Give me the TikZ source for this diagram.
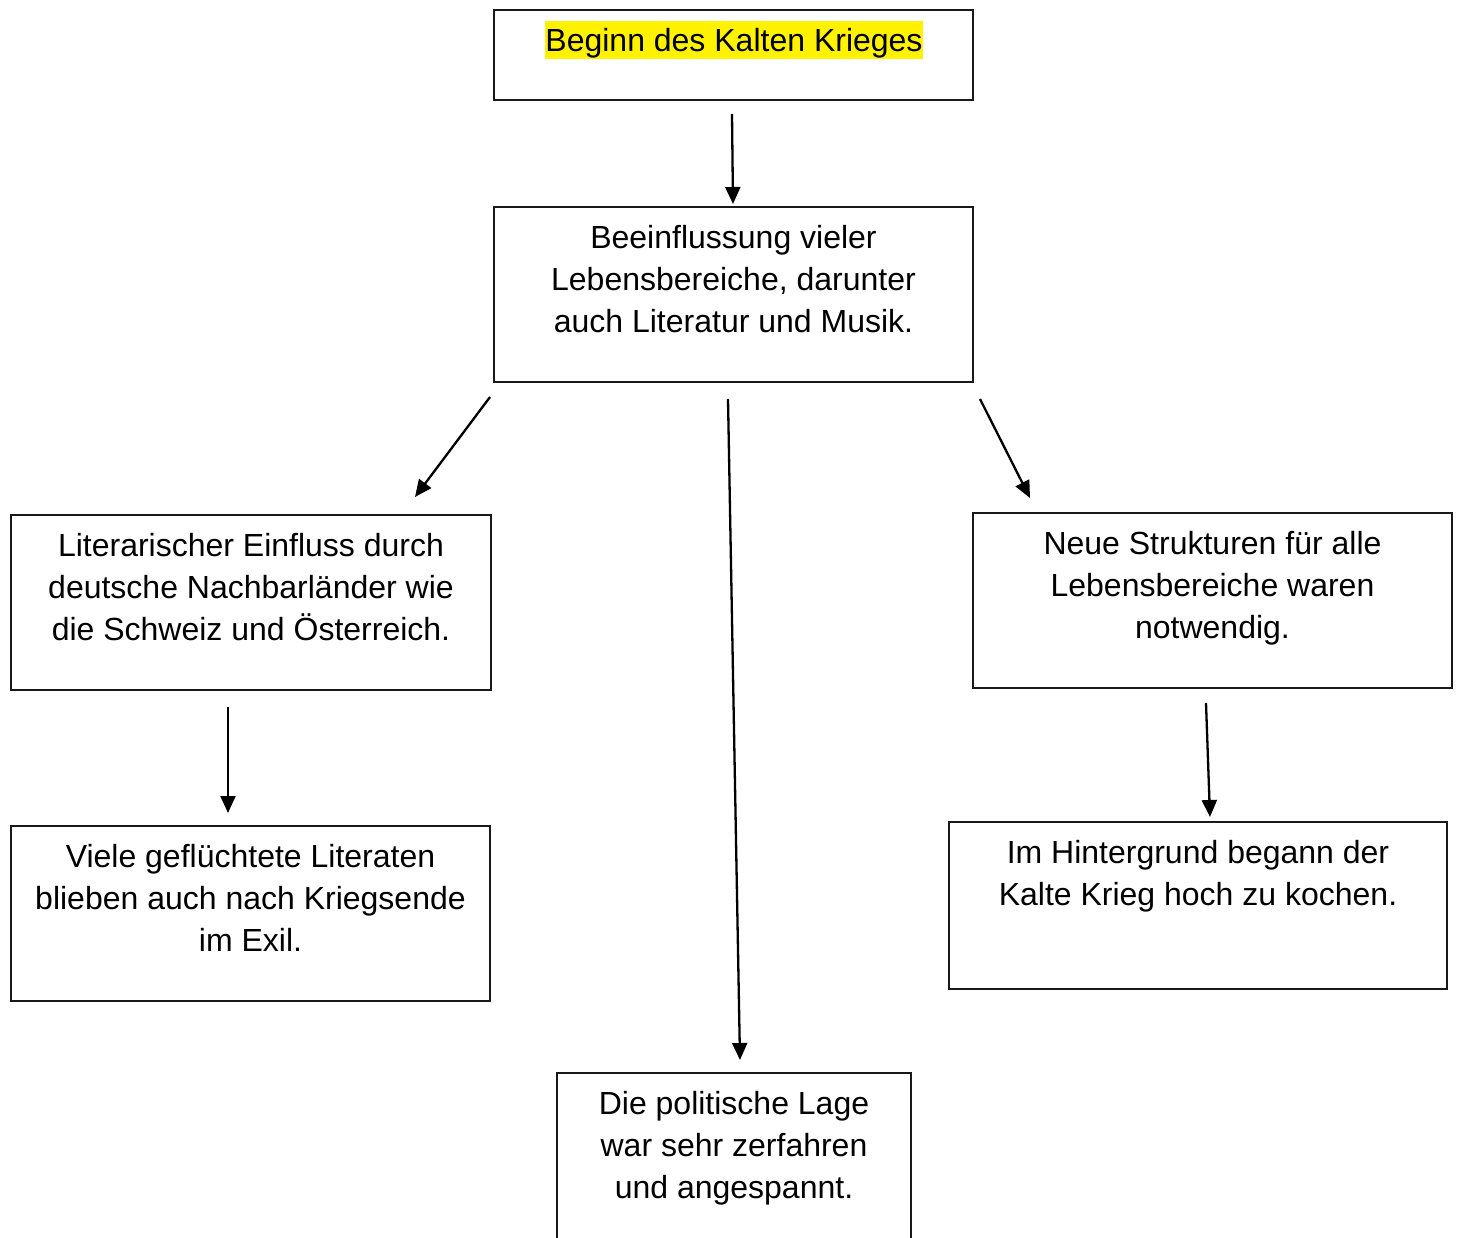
\documentclass[tikz,border=0pt]{standalone}
\usepackage{fontspec}
\setmainfont{Liberation Sans}
\usetikzlibrary{arrows.meta}
\begin{document}
\begin{tikzpicture}[x=1pt,y=-1pt,
  box/.style={draw=black!90, line width=1.8pt, inner sep=0pt, rectangle},
  txt/.style={anchor=north, inner sep=0pt, align=center, font=\fontsize{32}{42}\selectfont, yshift=-12.4pt},
  arr/.style={line width=2.3pt, -{Triangle[length=17pt,width=15pt]}}
]
\useasboundingbox (0,0) rectangle (1460,1238);
\fill[white] (0,0) rectangle (1460,1238);
\begin{scope}
\clip (0,0) rectangle (1460,1238);
% boxes
\node[box, minimum width=479pt, minimum height=90pt]  (b1) at (733.5,55) {};
\node[box, minimum width=479pt, minimum height=175pt] (b2) at (733.5,294.5) {};
\node[box, minimum width=480pt, minimum height=175pt] (b3) at (251,602.5) {};
\node[box, minimum width=479pt, minimum height=175pt] (b4) at (1212.5,600.5) {};
\node[box, minimum width=479pt, minimum height=175pt] (b5) at (250.5,913.5) {};
\node[box, minimum width=498pt, minimum height=167pt] (b6) at (1198,905.5) {};
\node[box, minimum width=354pt, minimum height=200pt] (b7) at (734,1173) {};
\end{scope}
% texts
\node[anchor=base, inner xsep=0pt, inner ysep=0pt, fill=yellow, text height=31pt, text depth=7pt,
      font=\fontsize{32}{42}\selectfont] (t1) at (734,52) {Beginn des Kalten Krieges};
\node[txt] (t2) at (b2.north) {\strut Beeinflussung vieler\\\strut Lebensbereiche, darunter\\\strut auch Literatur und Musik.};
\node[txt] (t3) at (b3.north) {\strut Literarischer Einfluss durch\\\strut deutsche Nachbarländer wie\\\strut die Schweiz und Österreich.};
\node[txt] (t4) at (b4.north) {\strut Neue Strukturen für alle\\\strut Lebensbereiche waren\\\strut notwendig.};
\node[txt] (t5) at (b5.north) {\strut Viele geflüchtete Literaten\\\strut blieben auch nach Kriegsende\\\strut im Exil.};
\node[txt] (t6) at (b6.north) {\strut Im Hintergrund begann der\\\strut Kalte Krieg hoch zu kochen.};
\node[txt] (t7) at (b7.north) {\strut Die politische Lage\\\strut war sehr zerfahren\\\strut und angespannt.};
% arrow endpoints
\coordinate (a1s) at (732,114);  \coordinate (a1e) at (733,204);
\coordinate (a2s) at (490,397);  \coordinate (a2e) at (415,497);
\coordinate (a3s) at (728,399);  \coordinate (a3e) at (740,1060);
\coordinate (a4s) at (980,399);  \coordinate (a4e) at (1030,498);
\coordinate (a5s) at (228,707);  \coordinate (a5e) at (228,813);
\coordinate (a6s) at (1206,703); \coordinate (a6e) at (1210,817);
\draw[arr] (a1s) -- (a1e);
\draw[arr] (a2s) -- (a2e);
\draw[arr] (a3s) -- (a3e);
\draw[arr] (a4s) -- (a4e);
\draw[arr] (a5s) -- (a5e);
\draw[arr] (a6s) -- (a6e);
\end{tikzpicture}
\end{document}
